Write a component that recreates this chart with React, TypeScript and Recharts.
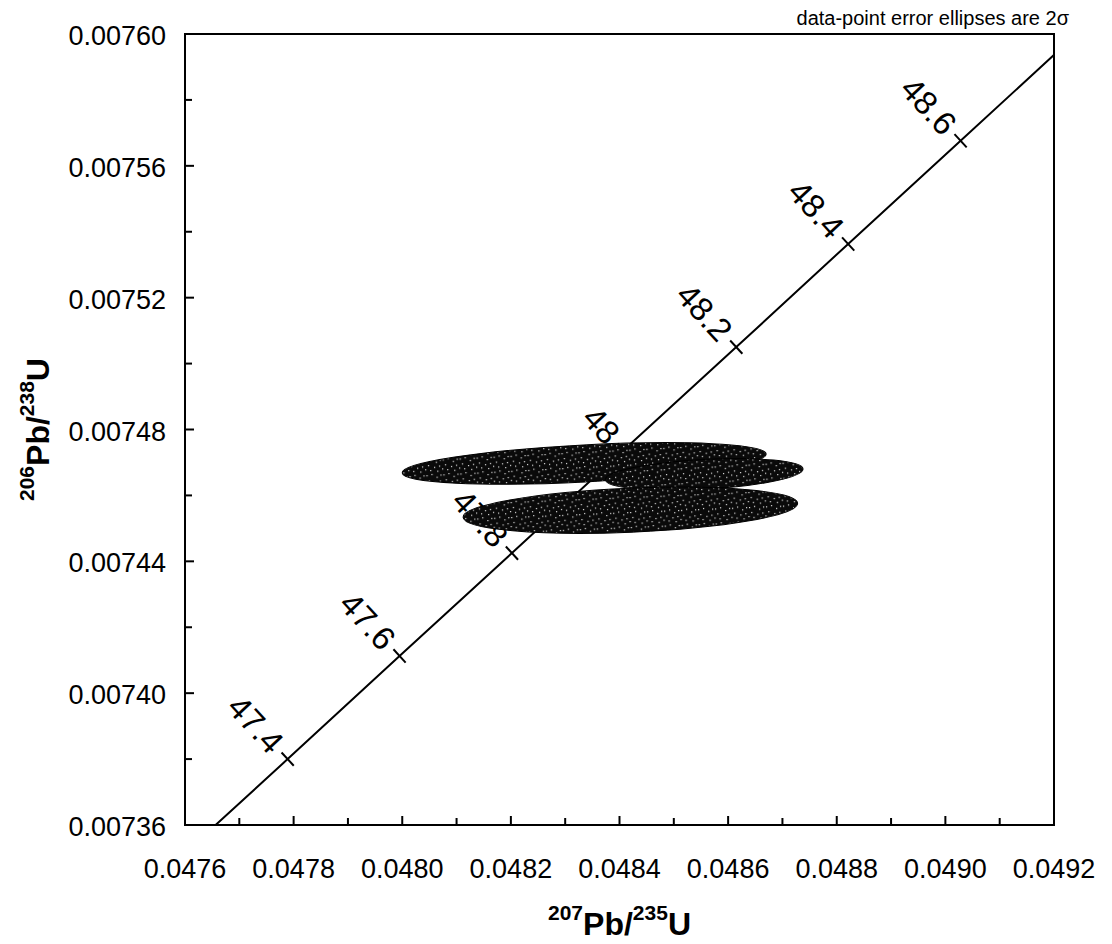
import React from 'react';
import { ScatterChart, Scatter, XAxis, YAxis, ReferenceArea } from 'recharts';

const FONT = '"Liberation Sans", Arial, Helvetica, sans-serif';

// ---- axis ranges and ticks ----
const X_MIN = 0.0476;
const X_MAX = 0.0492;
const Y_MIN = 0.00736;
const Y_MAX = 0.0076;
const X_TICKS = [
  0.0476, 0.0477, 0.0478, 0.0479, 0.048, 0.0481, 0.0482, 0.0483, 0.0484,
  0.0485, 0.0486, 0.0487, 0.0488, 0.0489, 0.049, 0.0491, 0.0492,
];
const Y_TICKS = [
  0.00736, 0.00738, 0.0074, 0.00742, 0.00744, 0.00746, 0.00748, 0.0075,
  0.00752, 0.00754, 0.00756, 0.00758, 0.0076,
];

// ---- concordia curve (age in Ma, 207Pb/235U, 206Pb/238U) ----
const CURVE_AGES = [47.2, 47.4, 47.6, 47.8, 48, 48.2, 48.4, 48.6, 48.8];
const CURVE_X = [0.047582, 0.047789, 0.047995, 0.048202, 0.048408, 0.048615, 0.048821, 0.049028, 0.049234];
const CURVE_Y = [0.0073488, 0.00738, 0.0074113, 0.0074425, 0.0074738, 0.007505, 0.0075363, 0.0075676, 0.0075988];
const LABELLED_AGES = [47.4, 47.6, 47.8, 48, 48.2, 48.4, 48.6];

// ---- analyses: centre, 2-sigma errors and error correlation ----
const ELLIPSE_X = [0.048335, 0.048556, 0.04842];
const ELLIPSE_Y = [0.0074697, 0.0074664, 0.0074555];
const ELLIPSE_ERR_X = [0.000335, 0.000182, 0.000308];
const ELLIPSE_ERR_Y = [0.0000063, 0.0000048, 0.000007];
const ELLIPSE_RHO = [0.45, 0.33, 0.3];

// ---- layout ----
const CHART_W = 1112;
const CHART_H = 944;
const MARGIN = { top: 34, right: 58, bottom: 0, left: 0 };
const Y_AXIS_W = 185;
const X_AXIS_H = 119;
const PLOT_LEFT = MARGIN.left + Y_AXIS_W;
const PLOT_W = CHART_W - MARGIN.left - MARGIN.right - Y_AXIS_W;
const PLOT_H = CHART_H - MARGIN.top - MARGIN.bottom - X_AXIS_H;
const PX_X = PLOT_W / (X_MAX - X_MIN);
const PX_Y = PLOT_H / (Y_MAX - Y_MIN);

const curveData = CURVE_AGES.map((age, i) => ({ age, x: CURVE_X[i], y: CURVE_Y[i] }));
const ageTickData = LABELLED_AGES.map((age) => {
  const i = CURVE_AGES.indexOf(age);
  return { x: CURVE_X[i], y: CURVE_Y[i], label: String(age) };
});
const ellipseData = ELLIPSE_X.map((x, i) => ({
  x,
  y: ELLIPSE_Y[i],
  ex: ELLIPSE_ERR_X[i],
  ey: ELLIPSE_ERR_Y[i],
  rho: ELLIPSE_RHO[i],
}));

// direction of the curve on screen, and its normal (pointing down-right)
const last = CURVE_X.length - 1;
const dirX = (CURVE_X[last] - CURVE_X[0]) * PX_X;
const dirY = -(CURVE_Y[last] - CURVE_Y[0]) * PX_Y;
const dirLen = Math.hypot(dirX, dirY);
const NX = -dirY / dirLen;
const NY = dirX / dirLen;
const LABEL_ANGLE = (Math.atan2(NY, NX) * 180) / Math.PI;

const XTick = (props: any) => {
  const { x, y, payload } = props;
  const v = payload.value as number;
  const major = Math.round(v * 1e4) % 2 === 0;
  return (
    <g>
      <line x1={x} y1={y} x2={x} y2={y - (major ? 9 : 7)} stroke="#000" strokeWidth={2} />
      {major && (
        <text x={x} y={y + 53} textAnchor="middle" fontSize={27} fontFamily={FONT} fill="#000">
          {v.toFixed(4)}
        </text>
      )}
    </g>
  );
};

const YTick = (props: any) => {
  const { x, y, payload } = props;
  const v = payload.value as number;
  const major = Math.round(v * 1e5) % 4 === 0;
  return (
    <g>
      <line x1={x} y1={y} x2={x + (major ? 9 : 7)} y2={y} stroke="#000" strokeWidth={2} />
      {major && (
        <text x={x - 19} y={y + 11} textAnchor="end" fontSize={27} fontFamily={FONT} fill="#000">
          {v.toFixed(5)}
        </text>
      )}
    </g>
  );
};

const XTitle = () => (
  <text
    x={PLOT_LEFT + PLOT_W / 2}
    y={CHART_H - 9}
    textAnchor="middle"
    fontFamily={FONT}
    fontWeight="bold"
    fill="#000"
  >
    <tspan fontSize={21} dy={-15}>207</tspan>
    <tspan fontSize={32} dy={15}>Pb/</tspan>
    <tspan fontSize={21} dy={-15}>235</tspan>
    <tspan fontSize={32} dy={15}>U</tspan>
  </text>
);

const YTitle = () => {
  const cx = 49;
  const cy = MARGIN.top + PLOT_H / 2;
  return (
    <text
      x={cx}
      y={cy}
      transform={`rotate(-90 ${cx} ${cy})`}
      textAnchor="middle"
      fontFamily={FONT}
      fontWeight="bold"
      fill="#000"
    >
      <tspan fontSize={21} dy={-15}>206</tspan>
      <tspan fontSize={32} dy={15}>Pb/</tspan>
      <tspan fontSize={21} dy={-15}>238</tspan>
      <tspan fontSize={32} dy={15}>U</tspan>
    </text>
  );
};

const Note = () => (
  <text
    x={PLOT_LEFT + PLOT_W + 15}
    y={MARGIN.top - 9}
    textAnchor="end"
    fontSize={20}
    fontFamily={FONT}
    fill="#000"
  >
    data-point error ellipses are 2σ
  </text>
);

const EmptyShape = () => <g />;

const AgeTick = (props: any) => {
  const { cx, cy, payload } = props;
  const ax = cx - 15 * NX;
  const ay = cy - 15 * NY;
  return (
    <g>
      <line
        x1={cx - 9 * NX}
        y1={cy - 9 * NY}
        x2={cx + 9 * NX}
        y2={cy + 9 * NY}
        stroke="#000"
        strokeWidth={2}
      />
      <text
        x={ax}
        y={ay}
        transform={`rotate(${LABEL_ANGLE} ${ax} ${ay})`}
        textAnchor="end"
        dominantBaseline="central"
        fontSize={33}
        fontFamily={FONT}
        fill="#000"
      >
        {payload.label}
      </text>
    </g>
  );
};

// error ellipse from 2-sigma errors and correlation, in screen space
const EllipseShape = (props: any) => {
  const { cx, cy, payload } = props;
  const sx = payload.ex * PX_X;
  const sy = payload.ey * PX_Y;
  const c = -payload.rho * sx * sy;
  const a = sx * sx;
  const b = sy * sy;
  const mid = (a + b) / 2;
  const diff = Math.sqrt(((a - b) / 2) ** 2 + c * c);
  const r1 = Math.sqrt(mid + diff);
  const r2 = Math.sqrt(Math.max(mid - diff, 0));
  const theta = (0.5 * Math.atan2(2 * c, a - b) * 180) / Math.PI;
  return (
    <ellipse
      cx={cx}
      cy={cy}
      rx={r1}
      ry={r2}
      transform={`rotate(${theta} ${cx} ${cy})`}
      fill="url(#speckle)"
      stroke="#000"
      strokeWidth={1}
    />
  );
};

const SPECKLE_DOTS = [
  [1, 2], [6, 1], [11, 4], [3, 7], [9, 9], [14, 8], [5, 12], [12, 13], [0, 11], [15, 2],
];

export default function App() {
  return (
    <div style={{ position: 'absolute', left: 0, top: 0, width: CHART_W, height: CHART_H, background: '#fff' }}>
      <svg width={0} height={0} style={{ position: 'absolute' }}>
        <defs>
          <pattern id="speckle" width={17} height={15} patternUnits="userSpaceOnUse">
            <rect width={17} height={15} fill="#0a0a0a" />
            {SPECKLE_DOTS.map(([dx, dy], i) => (
              <rect key={i} x={dx} y={dy} width={1.2} height={1.2} fill="#fff" opacity={0.85} />
            ))}
          </pattern>
        </defs>
      </svg>
      <ScatterChart width={CHART_W} height={CHART_H} margin={MARGIN}>
        <XAxis
          type="number"
          dataKey="x"
          domain={[X_MIN, X_MAX]}
          ticks={X_TICKS}
          interval={0}
          allowDataOverflow
          height={X_AXIS_H}
          tickSize={0}
          tickMargin={0}
          tickLine={false}
          axisLine={false}
          tick={(p: any) => <XTick {...p} />}
          label={() => <XTitle />}
        />
        <YAxis
          type="number"
          dataKey="y"
          domain={[Y_MIN, Y_MAX]}
          ticks={Y_TICKS}
          interval={0}
          allowDataOverflow
          width={Y_AXIS_W}
          tickSize={0}
          tickMargin={0}
          tickLine={false}
          axisLine={false}
          tick={(p: any) => <YTick {...p} />}
          label={() => <YTitle />}
        />
        <ReferenceArea
          x1={X_MIN}
          x2={X_MAX}
          y1={Y_MIN}
          y2={Y_MAX}
          fill="none"
          stroke="#000"
          strokeWidth={2}
          label={() => <Note />}
        />
        <Scatter
          data={curveData}
          line={{ stroke: '#000', strokeWidth: 2 }}
          shape={EmptyShape}
          isAnimationActive={false}
        />
        <Scatter data={ageTickData} shape={AgeTick} isAnimationActive={false} />
        <Scatter data={ellipseData} shape={EllipseShape} isAnimationActive={false} />
      </ScatterChart>
    </div>
  );
}
